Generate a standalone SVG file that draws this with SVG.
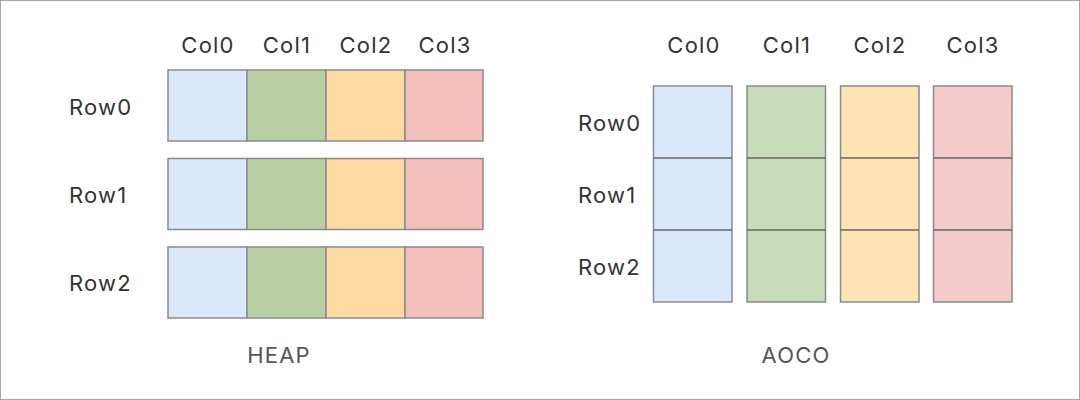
<svg xmlns="http://www.w3.org/2000/svg" width="1080" height="400" viewBox="0 0 1080 400">
<style>
text{font-family:Inter,"Noto Sans","Liberation Sans",sans-serif;font-size:22px;letter-spacing:1.2px;fill:#333}
.c{text-anchor:middle}
.t{fill:#555}
rect{stroke:#8a8a8a;stroke-width:1.5}
.b{fill:#dae8fc}.g{fill:#b9cea2}.o{fill:#fed9a1}.r{fill:#f2bfbb}
.g2{fill:#c9dcb9}.o2{fill:#fde4b4}.r2{fill:#f4cbc8}
.d{stroke:#666;stroke-width:1.5}
</style>
<rect width="1080" height="400" fill="#fff" stroke="none"/>
<g id="heap">
<text class="c" x="208" y="53">Col0</text>
<text class="c" x="287" y="53">Col1</text>
<text class="c" x="366" y="53">Col2</text>
<text class="c" x="445" y="53">Col3</text>
<text x="69" y="114.5">Row0</text>
<text x="69" y="203">Row1</text>
<text x="69" y="291">Row2</text>
<g id="heap-row0">
<rect class="b" x="168" y="70" width="79" height="71"/>
<rect class="g" x="247" y="70" width="79" height="71"/>
<rect class="o" x="326" y="70" width="79" height="71"/>
<rect class="r" x="405" y="70" width="78" height="71"/>
</g>
<g id="heap-row1">
<rect class="b" x="168" y="158.5" width="79" height="71"/>
<rect class="g" x="247" y="158.5" width="79" height="71"/>
<rect class="o" x="326" y="158.5" width="79" height="71"/>
<rect class="r" x="405" y="158.5" width="78" height="71"/>
</g>
<g id="heap-row2">
<rect class="b" x="168" y="247" width="79" height="71"/>
<rect class="g" x="247" y="247" width="79" height="71"/>
<rect class="o" x="326" y="247" width="79" height="71"/>
<rect class="r" x="405" y="247" width="78" height="71"/>
</g>
<text class="c t" x="279" y="363">HEAP</text>
</g>
<g id="aoco">
<text class="c" x="694" y="53">Col0</text>
<text class="c" x="787" y="53">Col1</text>
<text class="c" x="880" y="53">Col2</text>
<text class="c" x="973" y="53">Col3</text>
<text x="578" y="131">Row0</text>
<text x="578" y="203">Row1</text>
<text x="578" y="275">Row2</text>
<g id="aoco-col0">
<rect class="b" x="653.5" y="86" width="78.5" height="216"/>
<line class="d" x1="653.5" y1="158" x2="732" y2="158"/>
<line class="d" x1="653.5" y1="230" x2="732" y2="230"/>
</g>
<g id="aoco-col1">
<rect class="g2" x="747" y="86" width="78.5" height="216"/>
<line class="d" x1="747" y1="158" x2="825.5" y2="158"/>
<line class="d" x1="747" y1="230" x2="825.5" y2="230"/>
</g>
<g id="aoco-col2">
<rect class="o2" x="840.5" y="86" width="78.5" height="216"/>
<line class="d" x1="840.5" y1="158" x2="919" y2="158"/>
<line class="d" x1="840.5" y1="230" x2="919" y2="230"/>
</g>
<g id="aoco-col3">
<rect class="r2" x="933.5" y="86" width="78.5" height="216"/>
<line class="d" x1="933.5" y1="158" x2="1012" y2="158"/>
<line class="d" x1="933.5" y1="230" x2="1012" y2="230"/>
</g>
<text class="c t" x="796" y="363">AOCO</text>
</g>
<g id="connectors"/>
</svg>
